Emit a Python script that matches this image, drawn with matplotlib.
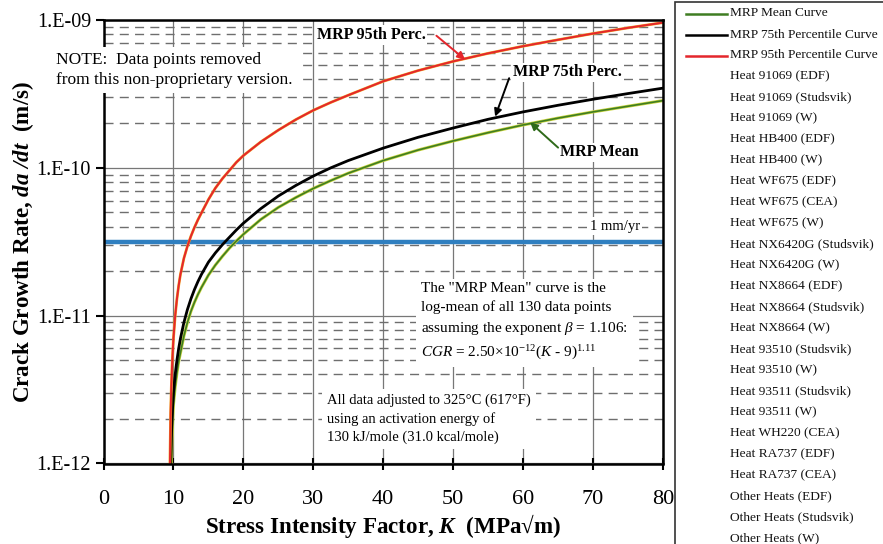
import matplotlib
matplotlib.use("Agg")
import matplotlib.pyplot as plt
from matplotlib.lines import Line2D
from matplotlib.patches import Rectangle
from matplotlib.ticker import LogLocator, FixedLocator, NullFormatter

plt.rcParams['font.family'] = ['Liberation Serif', 'DejaVu Serif']
plt.rcParams['mathtext.fontset'] = 'custom'
plt.rcParams['mathtext.rm'] = 'Liberation Serif'
plt.rcParams['mathtext.it'] = 'Liberation Serif:italic'
plt.rcParams['mathtext.bf'] = 'Liberation Serif:bold:italic'

# stress intensity factor K (MPa sqrt m)
K = [9.5, 9.6, 9.7, 9.8, 9.9, 10, 10.25, 10.5, 10.75, 11, 11.5, 12, 12.5, 13, 13.5,
     14, 15, 16, 17, 18, 19, 20, 22.5, 25, 27.5, 30, 32.5, 35, 40, 45, 50, 55, 60,
     65, 70, 75, 80]

# crack growth rate curves (m/s)
cgr_mean = [0.5e-12, 0.75e-12, 1.0e-12, 1.5e-12, 2.0e-12, 2.5e-12, 3.3e-12, 4.1e-12,
            4.9e-12, 5.6e-12, 7.3e-12, 9.0e-12, 1.07e-11, 1.23e-11, 1.39e-11, 1.55e-11,
            1.88e-11, 2.2e-11, 2.52e-11, 2.86e-11, 3.2e-11, 3.55e-11, 4.48e-11, 5.4e-11,
            6.3e-11, 7.25e-11, 8.2e-11, 9.2e-11, 1.12e-10, 1.32e-10, 1.52e-10, 1.73e-10,
            1.95e-10, 2.17e-10, 2.39e-10, 2.61e-10, 2.85e-10]
cgr_75th = [0.75e-12, 1.0e-12, 1.5e-12, 2.0e-12, 2.5e-12, 3.0e-12, 4.0e-12, 5.0e-12,
            6.0e-12, 7.0e-12, 9.0e-12, 1.1e-11, 1.3e-11, 1.5e-11, 1.7e-11, 1.9e-11,
            2.3e-11, 2.66e-11, 3.02e-11, 3.39e-11, 3.8e-11, 4.22e-11, 5.3e-11, 6.45e-11,
            7.6e-11, 8.8e-11, 1.0e-10, 1.12e-10, 1.36e-10, 1.61e-10, 1.86e-10, 2.13e-10,
            2.39e-10, 2.65e-10, 2.91e-10, 3.18e-10, 3.46e-10]
cgr_95th = [1.0e-12, 2.2e-12, 3.3e-12, 4.5e-12, 5.7e-12, 7.0e-12, 1.0e-11, 1.3e-11,
            1.6e-11, 1.9e-11, 2.45e-11, 2.95e-11, 3.45e-11, 3.95e-11, 4.45e-11, 4.95e-11,
            6.1e-11, 7.3e-11, 8.45e-11, 9.6e-11, 1.09e-10, 1.21e-10, 1.5e-10, 1.8e-10,
            2.12e-10, 2.45e-10, 2.77e-10, 3.1e-10, 3.85e-10, 4.55e-10, 5.25e-10, 5.95e-10,
            6.65e-10, 7.35e-10, 8.1e-10, 8.85e-10, 9.6e-10]

one_mm_per_yr = 3.17e-11

x_ticks = [0, 10, 20, 30, 40, 50, 60, 70, 80]
y_ticks = [1e-12, 1e-11, 1e-10, 1e-9]
y_tick_labels = ['1.E-12', '1.E-11', '1.E-10', '1.E-09']

legend_labels = [
    'MRP Mean Curve', 'MRP 75th Percentile Curve', 'MRP 95th Percentile Curve',
    'Heat 91069 (EDF)', 'Heat 91069 (Studsvik)', 'Heat 91069 (W)',
    'Heat HB400 (EDF)', 'Heat HB400 (W)', 'Heat WF675 (EDF)', 'Heat WF675 (CEA)',
    'Heat WF675 (W)', 'Heat NX6420G (Studsvik)', 'Heat NX6420G (W)',
    'Heat NX8664 (EDF)', 'Heat NX8664 (Studsvik)', 'Heat NX8664 (W)',
    'Heat 93510 (Studsvik)', 'Heat 93510 (W)', 'Heat 93511 (Studsvik)',
    'Heat 93511 (W)', 'Heat WH220 (CEA)', 'Heat RA737 (EDF)', 'Heat RA737 (CEA)',
    'Other Heats (EDF)', 'Other Heats (Studsvik)', 'Other Heats (W)',
]

GREEN = '#3f7d22'
RED = '#e4262c'
BLUE = '#2f7fc0'

W, H = 883, 544
fig = plt.figure(figsize=(W / 100, H / 100), dpi=100)
ax = fig.add_axes([103.5 / W, 1 - 463.5 / H, (663 - 103.5) / W, (463.5 - 20) / H])

ax.set_yscale('log')
ax.set_xlim(0, 80)
ax.set_ylim(1e-12, 1e-9)

# grid
ax.xaxis.set_major_locator(FixedLocator(x_ticks))
ax.yaxis.set_major_locator(FixedLocator(y_ticks))
ax.yaxis.set_minor_locator(LogLocator(base=10, subs=range(2, 10)))
ax.yaxis.set_minor_formatter(NullFormatter())
ax.grid(True, which='major', color='#777777', lw=0.9, zorder=0)
ax.grid(True, which='minor', axis='y', color='#6e6e6e', lw=1.0,
        linestyle=(0, (6.5, 4.5)), zorder=0)
ax.set_axisbelow(True)

ax.set_xticklabels([str(v) for v in x_ticks], fontsize=16)
ax.set_yticklabels(y_tick_labels, fontsize=14.5)
ax.tick_params(axis='x', which='major', direction='inout', length=8.6, width=1.5, pad=15)
ax.tick_params(axis='y', which='major', direction='out', length=6, width=1.5, pad=3)
ax.tick_params(axis='y', which='minor', length=0)
for s in ax.spines.values():
    s.set_linewidth(1.8)
    s.set_zorder(6)

# curves
ax.axhline(one_mm_per_yr, color=BLUE, lw=3.2, zorder=3)
ax.plot(K, cgr_mean, color='#c9d43a', lw=2.2, zorder=3)
ax.plot(K, cgr_mean, color=GREEN, lw=1.2, zorder=4)
ax.plot(K, cgr_75th, color='black', lw=2.0, zorder=4)
ax.plot(K, cgr_95th, color='#f0a020', lw=2.0, zorder=4)
ax.plot(K, cgr_95th, color=RED, lw=1.4, zorder=4)

ax.set_xlabel(r'Stress Intensity Factor, $\mathbf{K}$  (MPa√m)', fontsize=16.6,
              fontweight='bold', labelpad=2)
ax.set_ylabel(r'Crack Growth Rate, $\mathbf{da\ /dt}$  (m/s)', fontsize=16.6,
              fontweight='bold', labelpad=0)

# curve labels and their arrows
lbl = dict(fontsize=11.5, fontweight='bold', ha='left', va='center', zorder=7,
           bbox=dict(boxstyle='square,pad=0.1', fc='white', ec='none'))
ax.text(30.5, 7.91e-10, 'MRP 95th Perc.', **lbl)
ax.text(58.6, 4.42e-10, 'MRP 75th Perc.', **lbl)
ax.text(65.3, 1.27e-10, 'MRP Mean', **lbl)

arrow = dict(arrowstyle='-|>', lw=1.4, mutation_scale=11, shrinkA=0, shrinkB=0)
ax.annotate('', xy=(51.7, 5.4e-10), xytext=(47.6, 7.83e-10),
            arrowprops=dict(arrow, color=RED), zorder=7)
ax.annotate('', xy=(56.0, 2.22e-10), xytext=(58.0, 4.04e-10),
            arrowprops=dict(arrow, color='black'), zorder=7)
ax.annotate('', xy=(61.0, 2.03e-10), xytext=(65.0, 1.37e-10),
            arrowprops=dict(arrow, color='#2f6a1a'), zorder=7)

ax.text(73.1, 4.04e-11, '1 mm/yr', fontsize=10.5, ha='center', va='center', zorder=7,
        bbox=dict(boxstyle='square,pad=0.15', fc='white', ec='none'))

ax.text(45.4, 9.1e-12,
        'The "MRP Mean" curve is the\n'
        'log-mean of all 130 data points\n'
        r'assuming the exponent $\mathit{\beta}$ = 1.106:' '\n'
        r'$\mathit{CGR}$ = 2.50×10$^{-12}$($\mathit{K}$ - 9)$^{1.11}$',
        fontsize=11, ha='left', va='center', linespacing=1.5, zorder=7,
        bbox=dict(boxstyle='square,pad=0.35', fc='white', ec='none'))

ax.text(32.0, 2.0e-12,
        'All data adjusted to 325°C (617°F)\n'
        'using an activation energy of\n'
        '130 kJ/mole (31.0 kcal/mole)',
        fontsize=10.5, ha='left', va='center', linespacing=1.45, zorder=7,
        bbox=dict(boxstyle='square,pad=0.35', fc='white', ec='none'))

fig.text(56 / W, 1 - 70 / H,
         'NOTE:  Data points removed\nfrom this non-proprietary version.',
         fontsize=12.5, ha='left', va='center', linespacing=1.3, zorder=8,
         bbox=dict(boxstyle='square,pad=0.3', fc='white', ec='none'))

# legend panel
fig.add_artist(Rectangle((675 / W, -0.1), 0.4, (H - 2) / H + 0.1,
                         transform=fig.transFigure, fill=False, ec='#333333', lw=1.2))
legend_colors = [GREEN, 'black', RED]
for i, label in enumerate(legend_labels):
    yy = 1 - (13.5 + 21.0 * i) / H
    if i < len(legend_colors):
        fig.add_artist(Line2D([686 / W, 727 / W], [yy, yy], transform=fig.transFigure,
                              color=legend_colors[i], lw=1.8))
    fig.text(730 / W, yy, label, fontsize=9.6, ha='left', va='center', color='#111111')

fig.savefig('out.png', dpi=100)
